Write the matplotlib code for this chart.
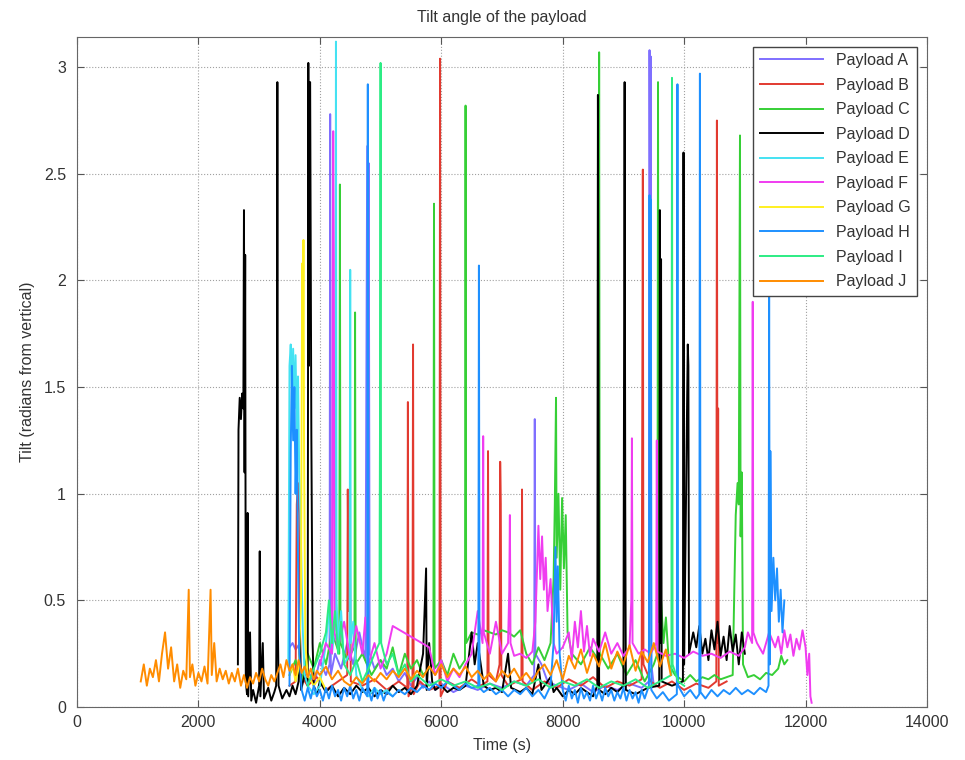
import numpy as np
import matplotlib
matplotlib.use("Agg")
import matplotlib.pyplot as plt

plt.rcParams['font.family'] = ['Liberation Sans', 'DejaVu Sans']

labels = ['Payload A', 'Payload B', 'Payload C', 'Payload D', 'Payload E',
          'Payload F', 'Payload G', 'Payload H', 'Payload I', 'Payload J']
colors = ['#7f6fff', '#e23a30', '#36cf36', '#000000', '#44e2f2',
          '#f03cf0', '#fff020', '#1e90ff', '#2cec84', '#ff8c00']

# time (s) and tilt (rad), one pair of lists per payload
a_t = [3500, 3550, 3600, 3650, 3700, 3800, 3900, 4000, 4100, 4160, 4170, 4180, 4250, 4350, 4450,
       4550, 4650, 4750, 4780, 4795, 4805, 4820, 4900, 5000, 5100, 5200, 5300, 5400, 5500, 5600,
       5700, 5800, 5900, 6000, 6200, 6400, 6600, 6800, 7000, 7200, 7400, 7530, 7540, 7550, 7650,
       7750, 7900, 8100, 8300, 8500, 8700, 8900, 9100, 9300, 9420, 9430, 9440, 9450, 9460, 9500]
a_v = [0.28, 0.30, 0.27, 0.29, 0.12, 0.18, 0.10, 0.22, 0.15, 0.20, 2.78, 0.15, 0.25, 0.18, 0.30,
       0.20, 0.35, 0.22, 2.63, 0.60, 2.55, 0.25, 0.18, 0.22, 0.15, 0.18, 0.12, 0.16, 0.10, 0.14,
       0.09, 0.12, 0.08, 0.11, 0.07, 0.10, 0.08, 0.11, 0.09, 0.12, 0.10, 0.15, 1.35, 0.25, 0.20,
       0.12, 0.10, 0.08, 0.11, 0.07, 0.10, 0.08, 0.11, 0.09, 0.12, 3.08, 1.75, 3.05, 0.20, 0.10]

b_t = [3500, 3600, 3620, 3640, 3660, 3680, 3800, 3950, 4100, 4300, 4450, 4460, 4475, 4490, 4510,
       4700, 4900, 5100, 5300, 5440, 5450, 5460, 5525, 5535, 5545, 5650, 5800, 5970, 5980, 5990,
       6100, 6300, 6500, 6650, 6760, 6770, 6780, 6900, 6960, 6970, 6980, 6990, 7100, 7320, 7330,
       7340, 7500, 7700, 7900, 8100, 8300, 8500, 8700, 8900, 9100, 9300, 9320, 9330, 9450, 9600,
       9800, 10000, 10200, 10400, 10530, 10540, 10550, 10560, 10570, 10700]
b_v = [0.10, 0.12, 0.95, 1.05, 0.90, 0.15, 0.10, 0.14, 0.08, 0.12, 0.15, 1.02, 0.45, 0.95, 0.12,
       0.10, 0.13, 0.08, 0.12, 0.09, 1.43, 0.05, 0.10, 1.70, 0.06, 0.12, 0.08, 0.10, 3.04, 0.05,
       0.12, 0.09, 0.13, 0.10, 0.12, 1.20, 0.15, 0.12, 0.20, 1.15, 0.95, 0.15, 0.10, 0.13, 1.02,
       0.12, 0.08, 0.12, 0.09, 0.13, 0.10, 0.14, 0.09, 0.12, 0.10, 0.13, 2.52, 0.20, 0.12, 0.09,
       0.12, 0.08, 0.11, 0.09, 0.12, 2.75, 0.30, 1.40, 0.10, 0.12]

c_t = [3500, 3600, 3700, 3800, 3900, 4000, 4100, 4200, 4320, 4330, 4340, 4450, 4570, 4580, 4590,
       4700, 4850, 5000, 5100, 5200, 5300, 5400, 5500, 5600, 5700, 5870, 5880, 5890, 6000, 6100,
       6200, 6300, 6390, 6400, 6410, 6500, 6600, 6700, 6800, 6900, 7000, 7100, 7200, 7300, 7400,
       7500, 7600, 7700, 7800, 7850, 7870, 7890, 7900, 7930, 7960, 7990, 8020, 8050, 8080, 8150,
       8300, 8450, 8590, 8600, 8610, 8750, 8900, 9050, 9200, 9350, 9500, 9560, 9570, 9580, 9620,
       9660, 9700, 9750, 9850, 10000, 10100, 10200, 10300, 10400, 10500, 10600, 10700, 10800, 10850, 10880,
       10900, 10920, 10930, 10950, 10970, 11050, 11150, 11250, 11350, 11450, 11550, 11600, 11650, 11700]
c_v = [0.15, 0.22, 0.12, 0.25, 0.18, 0.30, 0.20, 0.35, 0.25, 2.45, 0.30, 0.22, 0.28, 1.85, 0.20,
       0.25, 0.15, 0.22, 0.18, 0.28, 0.15, 0.25, 0.18, 0.22, 0.15, 0.20, 2.36, 0.18, 0.22, 0.15,
       0.25, 0.18, 0.22, 2.82, 0.30, 0.35, 0.34, 0.36, 0.35, 0.34, 0.36, 0.35, 0.33, 0.36, 0.25,
       0.20, 0.28, 0.22, 0.30, 0.60, 0.95, 1.45, 0.70, 1.00, 0.55, 0.98, 0.65, 0.90, 0.35, 0.25,
       0.20, 0.28, 0.22, 3.07, 0.25, 0.18, 0.25, 0.15, 0.22, 0.12, 0.20, 0.25, 2.93, 0.40, 0.50,
       0.30, 0.42, 0.20, 0.15, 0.12, 0.15, 0.12, 0.14, 0.13, 0.15, 0.13, 0.14, 0.15, 0.90, 1.05,
       0.95, 2.68, 0.80, 1.10, 0.20, 0.14, 0.15, 0.13, 0.16, 0.15, 0.18, 0.24, 0.20, 0.22]

d_t = [2650, 2660, 2680, 2700, 2720, 2740, 2750, 2760, 2770, 2780, 2800, 2810, 2820, 2850, 2870,
       2900, 2950, 3000, 3010, 3020, 3060, 3080, 3150, 3200, 3250, 3280, 3290, 3300, 3310, 3320,
       3380, 3450, 3500, 3550, 3600, 3650, 3670, 3690, 3750, 3800, 3810, 3820, 3840, 3860, 3880,
       3900, 3950, 4000, 4100, 4200, 4300, 4400, 4500, 4600, 4700, 4800, 4900, 5000, 5100, 5200,
       5300, 5400, 5500, 5600, 5700, 5750, 5760, 5800, 5850, 5900, 6000, 6100, 6200, 6300, 6400,
       6500, 6550, 6600, 6700, 6800, 6900, 7000, 7100, 7150, 7300, 7400, 7500, 7600, 7650, 7700,
       7800, 7850, 7900, 8000, 8100, 8200, 8300, 8400, 8500, 8570, 8580, 8590, 8600, 8700, 8800,
       8900, 9000, 9020, 9030, 9040, 9200, 9400, 9590, 9600, 9610, 9620, 9630, 9800, 9980, 9990,
       10000, 10060, 10070, 10080, 10150, 10200, 10250, 10300, 10350, 10400, 10450, 10500, 10550, 10600, 10650,
       10700, 10750, 10800, 10850, 10900, 10950, 11000]
d_v = [0.20, 1.30, 1.45, 1.35, 1.47, 1.40, 2.33, 1.10, 2.12, 0.12, 0.06, 0.91, 0.05, 0.35, 0.03,
       0.08, 0.02, 0.10, 0.73, 0.05, 0.30, 0.04, 0.09, 0.03, 0.07, 0.10, 0.68, 2.93, 0.35, 0.10,
       0.04, 0.08, 0.05, 0.10, 0.06, 0.12, 0.38, 0.08, 0.15, 0.10, 3.02, 1.60, 2.93, 1.27, 0.30,
       0.10, 0.06, 0.12, 0.07, 0.10, 0.05, 0.09, 0.06, 0.10, 0.07, 0.09, 0.05, 0.08, 0.06, 0.10,
       0.07, 0.09, 0.06, 0.10, 0.25, 0.65, 0.08, 0.30, 0.12, 0.08, 0.10, 0.07, 0.09, 0.08, 0.10,
       0.35, 0.20, 0.30, 0.10, 0.08, 0.09, 0.07, 0.25, 0.09, 0.07, 0.09, 0.06, 0.20, 0.08, 0.10,
       0.14, 0.07, 0.09, 0.05, 0.08, 0.06, 0.09, 0.07, 0.05, 0.10, 2.87, 1.45, 0.08, 0.06, 0.09,
       0.07, 0.10, 2.93, 0.95, 0.08, 0.06, 0.09, 0.10, 2.33, 0.30, 2.10, 0.12, 0.10, 0.12, 2.60,
       0.20, 1.70, 1.60, 0.25, 0.35, 0.28, 0.38, 0.25, 0.32, 0.22, 0.36, 0.27, 0.40, 0.24, 0.33,
       0.22, 0.38, 0.26, 0.34, 0.20, 0.35, 0.25]

e_t = [3480, 3500, 3520, 3540, 3560, 3580, 3600, 3620, 3640, 3660, 3680, 3700, 3720, 3750, 3800,
       3900, 4000, 4100, 4150, 4200, 4255, 4265, 4275, 4300, 4350, 4400, 4490, 4500, 4510, 4550,
       4600, 4700, 4800, 4900, 5000, 5100, 5200]
e_v = [0.20, 1.60, 1.70, 1.50, 1.68, 1.40, 1.65, 1.30, 1.55, 1.10, 0.90, 0.60, 0.35, 0.15, 0.10,
       0.06, 0.10, 0.30, 0.45, 0.25, 0.40, 3.12, 0.50, 0.30, 0.45, 0.20, 0.25, 2.05, 0.30, 0.40,
       0.15, 0.08, 0.05, 0.09, 0.06, 0.08, 0.05]

f_t = [4000, 4100, 4200, 4210, 4220, 4230, 4240, 4300, 4400, 4500, 4600, 4700, 4750, 4800, 4900,
       5000, 5100, 5200, 5500, 5800, 5900, 6000, 6100, 6200, 6300, 6400, 6500, 6600, 6680, 6690,
       6700, 6800, 6900, 7000, 7100, 7120, 7130, 7140, 7200, 7300, 7400, 7500, 7550, 7600, 7630,
       7660, 7690, 7720, 7750, 7800, 7850, 7900, 8000, 8100, 8150, 8200, 8250, 8300, 8350, 8400,
       8450, 8500, 8600, 8700, 8800, 8900, 9000, 9100, 9130, 9140, 9150, 9250, 9350, 9450, 9540,
       9550, 9560, 9700, 9850, 10000, 10150, 10300, 10450, 10600, 10750, 10900, 11000, 11050, 11120,
       11130, 11140, 11200, 11300, 11400, 11500, 11550, 11600, 11650, 11700, 11750, 11800, 11850, 11900,
       11950, 12000, 12030, 12060, 12080, 12100]
f_v = [0.20, 0.30, 0.25, 2.00, 2.70, 2.10, 0.35, 0.28, 0.40, 0.22, 0.38, 0.25, 0.42, 0.20, 0.30,
       0.18, 0.25, 0.38, 0.33, 0.28, 0.15, 0.22, 0.12, 0.18, 0.14, 0.20, 0.25, 0.45, 0.30, 1.27,
       0.35, 0.25, 0.40, 0.25, 0.30, 0.55, 0.90, 0.30, 0.24, 0.25, 0.23, 0.26, 0.40, 0.85, 0.60,
       0.80, 0.55, 0.70, 0.45, 0.60, 0.30, 0.25, 0.28, 0.35, 0.22, 0.40, 0.28, 0.45, 0.26, 0.38,
       0.24, 0.32, 0.26, 0.35, 0.25, 0.30, 0.24, 0.28, 0.50, 1.26, 0.30, 0.25, 0.27, 0.25, 0.30,
       1.25, 0.26, 0.24, 0.25, 0.23, 0.26, 0.24, 0.25, 0.23, 0.26, 0.24, 0.28, 0.35, 0.30,
       1.90, 0.35, 0.30, 0.25, 0.35, 0.28, 0.33, 0.25, 0.36, 0.28, 0.34, 0.24, 0.32, 0.27,
       0.36, 0.28, 0.15, 0.25, 0.05, 0.02]

g_t = [3500, 3550, 3600, 3650, 3690, 3700, 3710, 3720, 3730, 3740, 3760, 3800, 3900, 4000, 4100]
g_v = [0.15, 0.20, 0.12, 0.18, 0.50, 1.40, 2.08, 1.60, 2.19, 1.20, 0.30, 0.15, 0.10, 0.14, 0.08]

h_t = [3500, 3520, 3540, 3560, 3580, 3600, 3620, 3640, 3660, 3700, 3750, 3800, 3850, 3900, 3950,
       4000, 4050, 4100, 4150, 4200, 4250, 4300, 4350, 4400, 4450, 4500, 4550, 4600, 4650, 4700,
       4780, 4790, 4800, 4850, 4900, 4950, 5000, 5050, 5100, 5200, 5300, 5400, 5500, 5600, 5700,
       5800, 5900, 6000, 6100, 6200, 6300, 6400, 6500, 6610, 6620, 6630, 6700, 6800, 6900, 7000,
       7100, 7200, 7300, 7400, 7500, 7600, 7700, 7800, 7850, 7880, 7900, 7920, 7950, 8000, 8050,
       8100, 8150, 8200, 8250, 8300, 8350, 8400, 8450, 8500, 8550, 8600, 8650, 8700, 8750, 8800,
       8850, 8900, 8950, 9000, 9050, 9100, 9150, 9200, 9250, 9300, 9350, 9420, 9430, 9440, 9450,
       9460, 9550, 9650, 9750, 9880, 9890, 9900, 10000, 10100, 10200, 10250, 10260, 10270, 10350, 10450,
       10550, 10650, 10750, 10850, 10950, 11050, 11150, 11250, 11350, 11390, 11400, 11410, 11420, 11440, 11470,
       11500, 11530, 11560, 11590, 11620, 11650]
h_v = [0.10, 1.20, 1.60, 1.25, 1.50, 1.00, 1.30, 0.70, 0.25, 0.08, 0.03, 0.09, 0.04, 0.10, 0.05,
       0.08, 0.03, 0.09, 0.04, 0.10, 0.05, 0.08, 0.03, 0.09, 0.05, 0.10, 0.04, 0.08, 0.03, 0.09,
       0.05, 2.92, 0.08, 0.03, 0.09, 0.04, 0.08, 0.03, 0.07, 0.05, 0.08, 0.06, 0.09, 0.07, 0.10,
       0.08, 0.11, 0.09, 0.12, 0.10, 0.08, 0.11, 0.09, 0.10, 2.07, 0.09, 0.07, 0.09, 0.06, 0.08,
       0.05, 0.08, 0.06, 0.09, 0.05, 0.08, 0.04, 0.10, 0.30, 0.75, 0.40, 0.66, 0.25, 0.08, 0.03,
       0.10, 0.04, 0.08, 0.02, 0.09, 0.04, 0.07, 0.03, 0.10, 0.04, 0.08, 0.03, 0.09, 0.05, 0.08,
       0.03, 0.07, 0.04, 0.09, 0.03, 0.08, 0.04, 0.07, 0.02, 0.08, 0.04, 0.10, 2.40, 1.00, 2.38,
       0.08, 0.04, 0.07, 0.03, 0.06, 2.92, 0.10, 0.05, 0.08, 0.04, 0.06, 2.97, 0.07, 0.04, 0.08,
       0.05, 0.08, 0.06, 0.09, 0.06, 0.08, 0.06, 0.09, 0.07, 0.10, 1.95, 0.20, 1.20, 0.45, 0.70,
       0.50, 0.65, 0.40, 0.55, 0.35, 0.50]

i_t = [3800, 3900, 4000, 4100, 4150, 4200, 4250, 4300, 4350, 4400, 4500, 4600, 4700, 4800, 4900,
       4980, 4990, 5000, 5010, 5100, 5200, 5300, 5400, 5500, 5600, 5800, 6000, 6200, 6400, 6600,
       6800, 7000, 7200, 7400, 7600, 7800, 8000, 8200, 8400, 8600, 8800, 9000, 9200, 9400, 9600,
       9790, 9800, 9810, 9900, 10000]
i_v = [0.10, 0.18, 0.25, 0.35, 0.50, 0.30, 0.45, 0.25, 0.40, 0.20, 0.15, 0.22, 0.12, 0.18, 0.25,
       0.30, 1.25, 3.02, 0.30, 0.20, 0.25, 0.15, 0.20, 0.12, 0.15, 0.10, 0.13, 0.10, 0.12, 0.09,
       0.11, 0.08, 0.12, 0.10, 0.13, 0.09, 0.12, 0.10, 0.13, 0.09, 0.12, 0.10, 0.13, 0.09, 0.12,
       0.15, 2.95, 0.20, 0.12, 0.10]

j_t = [1050, 1100, 1150, 1200, 1250, 1300, 1350, 1400, 1450, 1500, 1550, 1600, 1650, 1700, 1750,
       1800, 1840, 1860, 1900, 1950, 2000, 2050, 2100, 2150, 2200, 2220, 2260, 2300, 2350, 2400,
       2450, 2500, 2550, 2600, 2650, 2700, 2750, 2800, 2850, 2900, 2950, 3000, 3050, 3100, 3150,
       3200, 3250, 3300, 3350, 3400, 3450, 3500, 3550, 3600, 3650, 3700, 3750, 3800, 3850, 3900,
       3950, 4000, 4100, 4200, 4300, 4400, 4500, 4600, 4700, 4800, 4900, 5000, 5100, 5200, 5300,
       5400, 5500, 5600, 5700, 5800, 5900, 6000, 6100, 6200, 6300, 6400, 6500, 6600, 6700, 6800,
       6900, 7000, 7100, 7200, 7300, 7400, 7500, 7600, 7700, 7800, 7900, 8000, 8100, 8200, 8300,
       8400, 8500, 8600, 8700, 8800, 8900, 9000, 9100, 9200, 9300, 9400, 9500, 9600, 9700, 9780]
j_v = [0.12, 0.20, 0.10, 0.18, 0.14, 0.22, 0.12, 0.25, 0.35, 0.18, 0.28, 0.12, 0.20, 0.09, 0.17,
       0.13, 0.55, 0.14, 0.20, 0.10, 0.16, 0.12, 0.19, 0.11, 0.55, 0.15, 0.30, 0.12, 0.18, 0.13,
       0.17, 0.11, 0.16, 0.12, 0.18, 0.10, 0.15, 0.09, 0.14, 0.11, 0.16, 0.12, 0.18, 0.13, 0.10,
       0.15, 0.12, 0.16, 0.20, 0.14, 0.22, 0.17, 0.20, 0.15, 0.22, 0.16, 0.19, 0.14, 0.18, 0.13,
       0.17, 0.15, 0.19, 0.13, 0.17, 0.12, 0.10, 0.14, 0.11, 0.15, 0.12, 0.16, 0.13, 0.17, 0.14,
       0.18, 0.13, 0.17, 0.14, 0.19, 0.15, 0.20, 0.14, 0.18, 0.15, 0.19, 0.14, 0.17, 0.13, 0.16,
       0.12, 0.17, 0.14, 0.18, 0.13, 0.16, 0.12, 0.17, 0.20, 0.15, 0.22, 0.13, 0.24, 0.18, 0.27,
       0.16, 0.25, 0.19, 0.30, 0.18, 0.26, 0.20, 0.29, 0.17, 0.26, 0.21, 0.30, 0.19, 0.27, 0.15]

series_t = [a_t, b_t, c_t, d_t, e_t, f_t, g_t, h_t, i_t, j_t]
series_v = [a_v, b_v, c_v, d_v, e_v, f_v, g_v, h_v, i_v, j_v]

fig = plt.figure(figsize=(9.65, 7.6), dpi=100)
ax = fig.add_axes([0.0798, 0.0697, 0.8808, 0.8816])

for t, v, c, lab in zip(series_t, series_v, colors, labels):
    ax.plot(t, v, color=c, lw=1.4, label=lab)

ax.set_xlim(0, 14000)
ax.set_ylim(0, np.pi)
ax.set_xticks(np.arange(0, 14001, 2000))
ax.set_yticks([0, 0.5, 1, 1.5, 2, 2.5, 3])
ax.set_yticklabels(['0', '0.5', '1', '1.5', '2', '2.5', '3'])
ax.grid(True, linestyle=':', color='#a0a0a0', lw=0.8)
ax.tick_params(direction='in', top=True, right=True, length=5, labelsize=11.5,
               colors='#555555', labelcolor='#333333')
ax.tick_params(axis='x', pad=6)
ax.tick_params(axis='y', pad=8)
for s in ax.spines.values():
    s.set_color('#666666')

ax.set_title('Tilt angle of the payload', fontsize=11.5, color='#333333', pad=11)
ax.set_xlabel('Time (s)', fontsize=11.5, color='#333333')
ax.set_ylabel('Tilt (radians from vertical)', fontsize=11.5, color='#333333')
ax.xaxis.set_label_coords(0.5, -0.046)
ax.yaxis.set_label_coords(-0.049, 0.5)

leg = ax.legend(loc='upper right', fontsize=11.5, handlelength=4, labelspacing=0.6,
                borderaxespad=0.6, fancybox=False, framealpha=1, edgecolor='#444444')
for line in leg.get_lines():
    line.set_linewidth(1.4)
for txt in leg.get_texts():
    txt.set_color('#333333')

fig.savefig('out.png', dpi=100)
